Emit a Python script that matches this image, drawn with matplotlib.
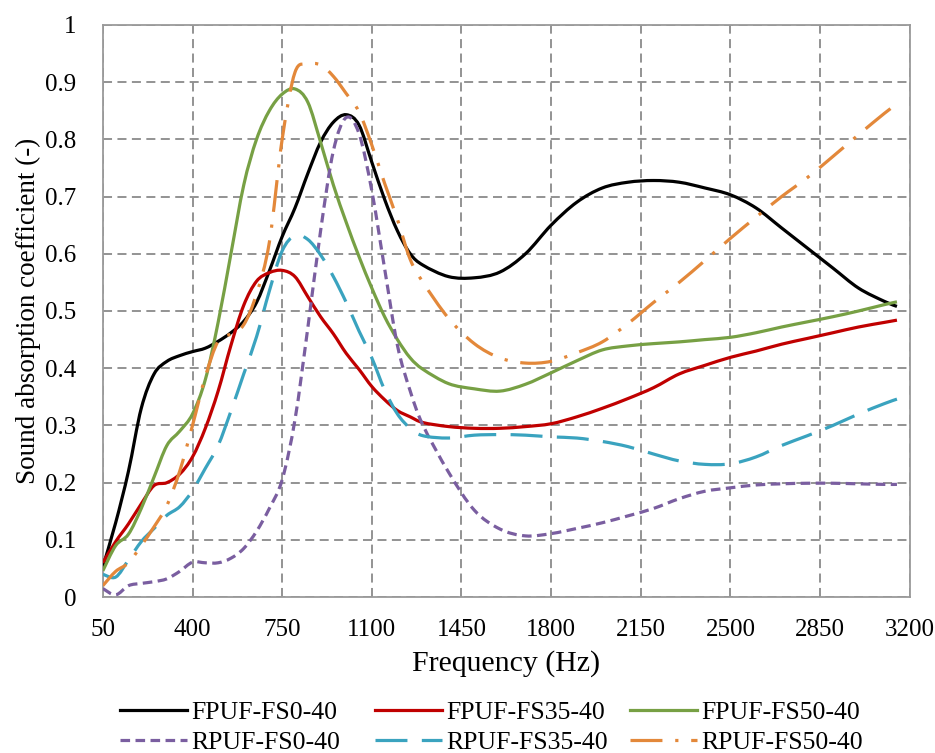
import matplotlib
matplotlib.use("Agg")
import matplotlib.pyplot as plt
from matplotlib.ticker import FuncFormatter, MultipleLocator
from matplotlib.path import Path
from matplotlib.patches import PathPatch
from matplotlib.lines import Line2D

freq = [50, 100, 150, 200, 250, 300, 350, 400, 450, 500, 550, 600, 650, 700, 750,
        800, 850, 900, 950, 1000, 1050, 1100, 1150, 1200, 1250, 1300, 1400, 1500,
        1600, 1700, 1800, 1900, 2000, 2100, 2200, 2300, 2400, 2500, 2600, 2700,
        2800, 2900, 3000, 3100, 3150]

fpuf_fs0 = [0.053, 0.13, 0.22, 0.33, 0.39, 0.412, 0.422, 0.429, 0.435, 0.447, 0.462, 0.482,
            0.515, 0.57, 0.63, 0.68, 0.74, 0.795, 0.83, 0.843, 0.825, 0.76, 0.695, 0.64,
            0.60, 0.58, 0.56, 0.558, 0.568, 0.60, 0.65, 0.69, 0.715, 0.725, 0.728, 0.725,
            0.715, 0.703, 0.68, 0.645, 0.61, 0.575, 0.54, 0.517, 0.508]
fpuf_fs35 = [0.06, 0.097, 0.128, 0.163, 0.195, 0.2, 0.215, 0.245, 0.295, 0.36, 0.44, 0.51,
             0.552, 0.567, 0.571, 0.56, 0.525, 0.49, 0.46, 0.426, 0.398, 0.368, 0.345, 0.326,
             0.315, 0.305, 0.298, 0.295, 0.295, 0.298, 0.303, 0.315, 0.33, 0.347, 0.366, 0.39,
             0.405, 0.419, 0.43, 0.442, 0.452, 0.462, 0.472, 0.48, 0.484]
fpuf_fs50 = [0.046, 0.09, 0.11, 0.155, 0.21, 0.265, 0.29, 0.32, 0.38, 0.48, 0.6, 0.72,
             0.80, 0.85, 0.879, 0.888, 0.865, 0.795, 0.72, 0.655, 0.595, 0.54, 0.49, 0.45,
             0.418, 0.398, 0.373, 0.364, 0.36, 0.372, 0.392, 0.413, 0.432, 0.439, 0.443, 0.446,
             0.45, 0.454, 0.462, 0.472, 0.481, 0.49, 0.5, 0.511, 0.516]
rpuf_fs0 = [0.015, 0.004, 0.02, 0.024, 0.027, 0.032, 0.045, 0.061, 0.06, 0.06, 0.068, 0.085,
            0.115, 0.155, 0.205, 0.31, 0.47, 0.64, 0.78, 0.838, 0.81, 0.71, 0.574, 0.44,
            0.36, 0.30, 0.218, 0.152, 0.119, 0.107, 0.111, 0.12, 0.13, 0.142, 0.155, 0.172,
            0.185, 0.191, 0.196, 0.198, 0.199, 0.199, 0.198, 0.197, 0.197]
rpuf_fs35 = [0.04, 0.035, 0.065, 0.097, 0.12, 0.143, 0.158, 0.186, 0.225, 0.265, 0.325, 0.39,
             0.455, 0.535, 0.605, 0.632, 0.625, 0.598, 0.56, 0.515, 0.465, 0.418, 0.362, 0.32,
             0.295, 0.282, 0.278, 0.283, 0.284, 0.283, 0.28, 0.278, 0.272, 0.263, 0.25, 0.238,
             0.232, 0.233, 0.245, 0.265, 0.282, 0.3, 0.32, 0.338, 0.346]
rpuf_fs50 = [0.02, 0.045, 0.06, 0.09, 0.123, 0.16, 0.22, 0.30, 0.385, 0.447, 0.46, 0.476,
             0.53, 0.62, 0.8, 0.917, 0.931, 0.93, 0.91, 0.88, 0.848, 0.79, 0.723, 0.66,
             0.59, 0.55, 0.487, 0.443, 0.418, 0.409, 0.412, 0.427, 0.446, 0.478, 0.515, 0.55,
             0.588, 0.627, 0.664, 0.7, 0.733, 0.77, 0.808, 0.845, 0.862]

labels = ["FPUF-FS0-40", "FPUF-FS35-40", "FPUF-FS50-40",
          "RPUF-FS0-40", "RPUF-FS35-40", "RPUF-FS50-40"]
x_ticks = [50, 400, 750, 1100, 1450, 1800, 2150, 2500, 2850, 3200]

plt.rcParams['font.family'] = ['Liberation Serif', 'DejaVu Serif']

fig = plt.figure(figsize=(9.35, 7.53), dpi=100)
ax = fig.add_axes([0.110, 0.207, 0.863, 0.760])


def smooth_path(xs, ys):
    """Smoothed (Excel-like) line through the data points as cubic Bezier segments."""
    pts = list(zip(xs, ys))
    n = len(pts)
    verts = [pts[0]]
    codes = [Path.MOVETO]
    for i in range(n - 1):
        p0 = pts[i - 1] if i > 0 else pts[i]
        p1 = pts[i]
        p2 = pts[i + 1]
        p3 = pts[i + 2] if i + 2 < n else pts[i + 1]
        c1 = (p1[0] + (p2[0] - p0[0]) / 6.0, p1[1] + (p2[1] - p0[1]) / 6.0)
        c2 = (p2[0] - (p3[0] - p1[0]) / 6.0, p2[1] - (p3[1] - p1[1]) / 6.0)
        verts += [c1, c2, p2]
        codes += [Path.CURVE4, Path.CURVE4, Path.CURVE4]
    return Path(verts, codes)


lw = 2.3
styles = [
    (fpuf_fs0, '#000000', '-'),
    (fpuf_fs35, '#c00000', '-'),
    (fpuf_fs50, '#77a044', '-'),
    (rpuf_fs0, '#7a5ea0', (0, (3, 1.7))),
    (rpuf_fs35, '#3aa3bf', (0, (10, 4.5))),
    (rpuf_fs50, '#e3883a', (0, (10, 4, 1, 4))),
]
handles = []
for (ys, col, ls), lab in zip(styles, labels):
    patch = PathPatch(smooth_path(freq, ys), facecolor='none', edgecolor=col,
                      lw=lw, ls=ls, transform=ax.transData, zorder=3)
    patch.set_capstyle('butt')
    patch.set_joinstyle('round')
    ax.add_patch(patch)
    handles.append(Line2D([], [], color=col, lw=lw, ls=ls))

ax.set_xlim(50, 3200)
ax.set_ylim(0, 1)
ax.set_xticks(x_ticks)
ax.yaxis.set_major_locator(MultipleLocator(0.1))
ax.yaxis.set_major_formatter(FuncFormatter(lambda v, p: ('%g' % round(v, 1))))
ax.grid(True, color='#8a8a8a', ls=(0, (5, 3)), lw=1.3)
ax.set_axisbelow(True)
for s in ax.spines.values():
    s.set_color('#9a9a9a')
    s.set_linewidth(1.3)
ax.tick_params(length=0, labelsize=18)
ax.tick_params(axis='x', pad=16)
ax.tick_params(axis='y', pad=19)
ax.set_xlabel('Frequency (Hz)', fontsize=21.5, labelpad=6)
ax.set_ylabel('Sound absorption coefficient (-)', fontsize=19.5, labelpad=3)

# legend: three equal-width columns (F row on top, R row below)
col_x = [0.021, 0.337, 0.653]
for c in range(3):
    leg = ax.legend([handles[c], handles[c + 3]], [labels[c], labels[c + 3]],
                    loc='center left', bbox_to_anchor=(col_x[c], -0.228),
                    frameon=False, fontsize=18.5, handlelength=2.6,
                    handletextpad=0.2, labelspacing=0.25,
                    borderaxespad=0, borderpad=0)
    if c < 2:
        ax.add_artist(leg)

fig.savefig('out.png', dpi=100)
